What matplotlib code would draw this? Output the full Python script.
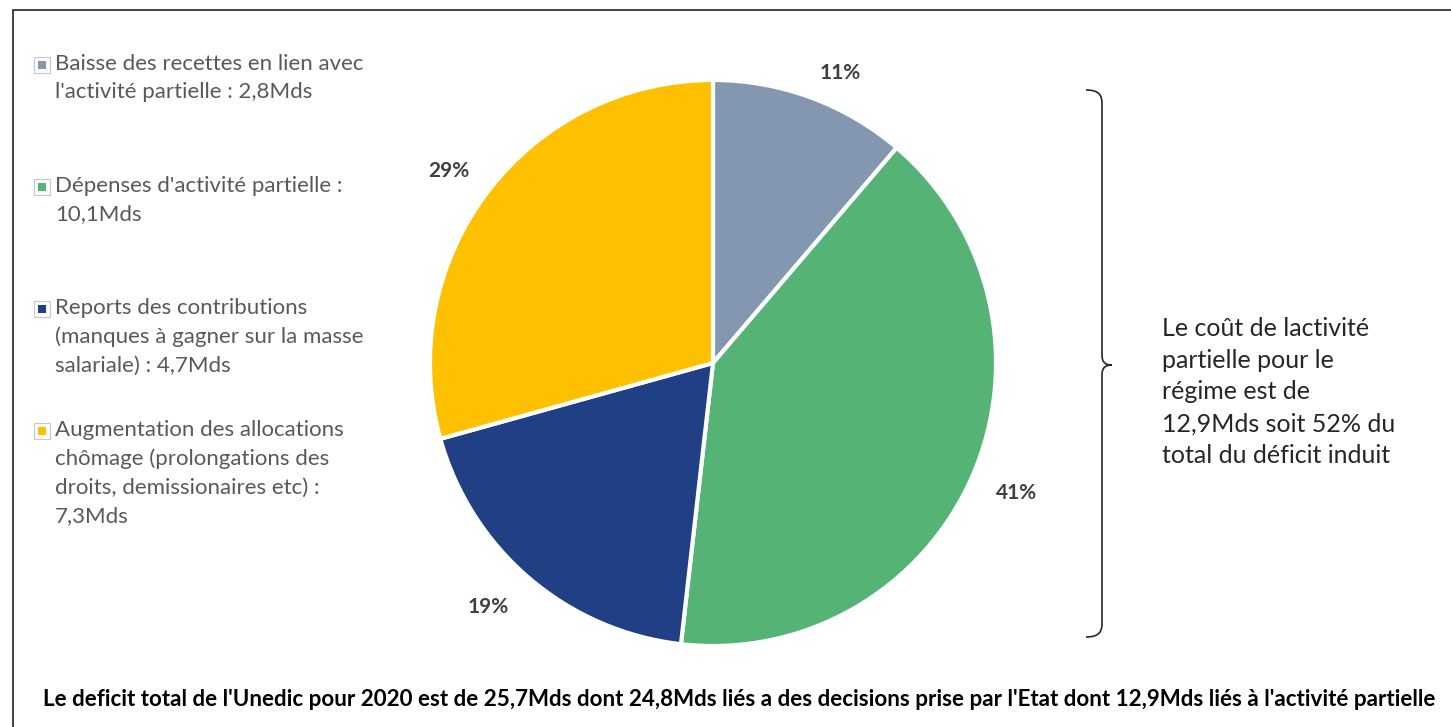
import matplotlib.pyplot as plt
from matplotlib.patches import Rectangle, PathPatch
from matplotlib.path import Path

# Donnees du graphique (Mds)
categories = [
    "Baisse des recettes en lien avec\nl'activité partielle : 2,8Mds",
    "Dépenses d'activité partielle :\n10,1Mds",
    "Reports des contributions\n(manques à gagner sur la masse\nsalariale) : 4,7Mds",
    "Augmentation des allocations\nchômage (prolongations des\ndroits, demissionaires etc) :\n7,3Mds",
]
valeurs = [2.8, 10.1, 4.7, 7.3]
couleurs = ["#8497B0", "#55B475", "#203F84", "#FFC000"]

note_droite = ("Le coût de lactivité\npartielle pour le\nrégime est de\n"
               "12,9Mds soit 52% du\ntotal du déficit induit")
titre_bas = ("Le deficit total de l'Unedic pour 2020 est de 25,7Mds dont 24,8Mds liés a des "
             "decisions prise par l'Etat dont 12,9Mds liés à l'activité partielle")

W, H = 1451, 727
fig = plt.figure(figsize=(W / 100, H / 100), dpi=100)


def fx(px):
    return px / W


def fy(py):
    return 1 - py / H


# cadre (seulement haut et gauche visibles)
fig.add_artist(Rectangle((fx(13), fy(H + 20)), fx(W + 20), (H + 10) / H,
                         transform=fig.transFigure, fill=False,
                         edgecolor="#222222", linewidth=1.2))

# camembert
cx, cy, r = 713, 363, 283
ax = fig.add_axes([fx(cx - r), fy(cy + r), 2 * r / W, 2 * r / H])
wedges, textes, pcts = ax.pie(valeurs, colors=couleurs, startangle=90, counterclock=False,
       autopct=lambda p: "%d%%" % round(p), pctdistance=1.15, radius=1,
       wedgeprops=dict(edgecolor="white", linewidth=3),
       textprops=dict(color="#404040", fontsize=15, fontweight="bold",
                      family="Lato"))
# petits decalages facon Excel (en pixels)
decal = [(15, -15), (5, 0), (-14, 4), (-5, -5)]
for t, (dx, dy) in zip(pcts, decal):
    x0, y0 = t.get_position()
    t.set_position((x0 + dx / r, y0 + dy / r))
ax.set_xlim(-1, 1)
ax.set_ylim(-1, 1)
ax.set_aspect("auto")
ax.axis("off")

# legende manuelle
for i, (lab, col) in enumerate(zip(categories, couleurs)):
    y = 65 + i * 122
    fig.add_artist(Rectangle((fx(34), fy(y + 8)), fx(16), 16 / H,
                             transform=fig.transFigure, facecolor="white",
                             edgecolor="#C8C8C8", linewidth=0.8))
    fig.add_artist(Rectangle((fx(38), fy(y + 4)), fx(8), 8 / H,
                             transform=fig.transFigure, facecolor=col,
                             edgecolor="none"))
    fig.text(fx(55), fy(y - 11), lab, ha="left", va="top", fontsize=16,
             color="#595959", family="Lato", linespacing=1.52)

# accolade
xs, top, bot, mid = 1086, 90, 637, 365
verts = [(xs, top), (xs + 14, top), (xs + 16, top + 6), (xs + 16, top + 14),
         (xs + 16, mid - 10), (xs + 16, mid - 2), (xs + 20, mid), (xs + 26, mid),
         (xs + 20, mid), (xs + 16, mid + 2), (xs + 16, mid + 10),
         (xs + 16, bot - 14), (xs + 16, bot - 6), (xs + 14, bot), (xs, bot)]
codes = [Path.MOVETO, Path.CURVE4, Path.CURVE4, Path.CURVE4,
         Path.LINETO, Path.CURVE4, Path.CURVE4, Path.CURVE4,
         Path.CURVE4, Path.CURVE4, Path.CURVE4,
         Path.LINETO, Path.CURVE4, Path.CURVE4, Path.CURVE4]
verts = [(fx(a), fy(b)) for a, b in verts]
fig.add_artist(PathPatch(Path(verts, codes), transform=fig.transFigure,
                         fill=False, edgecolor="#262626", linewidth=1.2))

fig.text(fx(1162), fy(317), note_droite, ha="left", va="top", fontsize=18,
         color="#262626", family="Lato", linespacing=1.46)

# texte du bas, ajuste a la largeur 38 -> 1440 px
tb = fig.text(fx(739), fy(700), titre_bas, ha="center", va="center", fontsize=14,
              fontweight="bold", color="black", fontstretch="condensed",
              family=["Liberation Sans Narrow", "Lato"])
rend = fig.canvas.get_renderer()
larg = tb.get_window_extent(rend).width
tb.set_fontsize(14 * 1402 / larg)

fig.savefig("out.png", dpi=100, facecolor="white")
